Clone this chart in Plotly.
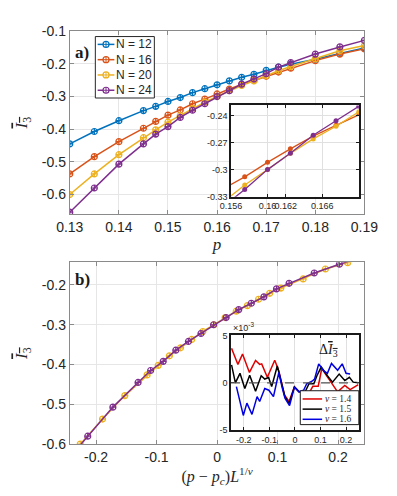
import plotly.graph_objects as go

# ---- data -----------------------------------------------------------------
P = [0.13, 0.135, 0.14, 0.145, 0.1475, 0.15, 0.1525, 0.155, 0.1575, 0.16,
     0.1625, 0.165, 0.1675, 0.17, 0.1725, 0.175, 0.18, 0.185, 0.19]

I3_N12 = [-0.445, -0.407, -0.374, -0.343, -0.330, -0.315, -0.303, -0.288, -0.276, -0.264,
          -0.252, -0.241, -0.232, -0.220, -0.210, -0.201, -0.186, -0.168, -0.151]
I3_N16 = [-0.537, -0.484, -0.438, -0.397, -0.376, -0.357, -0.341, -0.322, -0.308, -0.292,
          -0.277, -0.263, -0.251, -0.238, -0.225, -0.213, -0.190, -0.170, -0.154]
I3_N20 = [-0.600, -0.537, -0.478, -0.426, -0.402, -0.378, -0.358, -0.337, -0.317, -0.300,
          -0.282, -0.266, -0.252, -0.236, -0.221, -0.208, -0.185, -0.160, -0.144]
I3_N24 = [-0.654, -0.580, -0.507, -0.445, -0.415, -0.392, -0.364, -0.342, -0.322, -0.300,
          -0.282, -0.262, -0.246, -0.230, -0.210, -0.196, -0.170, -0.148, -0.128]

# scaling collapse parameters
PC = 0.1607
NU = 1.5

# inset b): deviation from collapse (units of 1e-3)
X_NU14 = [-0.248, -0.223, -0.205, -0.178, -0.154, -0.138, -0.130, -0.108, -0.079, -0.063,
          -0.041, -0.023, -0.002, 0.016, 0.058, 0.070, 0.091, 0.105, 0.167, 0.195, 0.216, 0.248]
D_NU14 = [3.64, 1.94, 3.03, 1.09, 2.35, 1.94, 2.00, 0.58, 2.38, 1.26,
          -1.29, -1.97, -0.44, -0.95, -0.95, -0.37, -0.37, 1.50, -0.95, -0.27, -0.72, -0.20]
X_NU15 = [-0.248, -0.233, -0.215, -0.196, -0.177, -0.154, -0.132, -0.118, -0.103, -0.091,
          -0.069, -0.055, -0.039, -0.023, -0.002, 0.016, 0.040, 0.055, 0.074, 0.086, 0.103,
          0.127, 0.147, 0.173, 0.195, 0.213, 0.228, 0.248]
D_NU15 = [1.90, 0.00, 1.00, -0.60, 0.80, -0.90, 0.75, 0.40, 0.55, -0.40,
          1.77, 0.30, -1.46, -2.20, -0.44, -0.95, -0.95, -0.10, -0.10, 0.75, 1.66,
          0.75, 0.07, 0.92, 0.24, 0.58, 0.07, 0.00]
X_NU16 = [-0.229, -0.202, -0.188, -0.168, -0.148, -0.138, -0.118, -0.102, -0.084, -0.063,
          -0.050, -0.039, -0.021, -0.002, 0.016, 0.034, 0.046, 0.067, 0.077, 0.093, 0.113,
          0.127, 0.143, 0.167, 0.185, 0.200, 0.216]
D_NU16 = [-0.40, -3.44, -2.14, -3.33, -1.46, -1.97, -0.61, -0.78, -1.46, 1.09,
          -0.50, -1.63, -2.41, -0.44, -0.95, -0.78, -0.10, 0.17, 0.40, 2.00, 1.26,
          1.00, 2.04, 1.32, 2.00, 1.00, 0.92]

# tick labels (MATLAB style hyphen minus)
XT_A = [0.13, 0.14, 0.15, 0.16, 0.17, 0.18, 0.19]
XL_A = ["0.13", "0.14", "0.15", "0.16", "0.17", "0.18", "0.19"]
YT_A = [-0.6, -0.5, -0.4, -0.3, -0.2, -0.1]
YL_A = ["-0.6", "-0.5", "-0.4", "-0.3", "-0.2", "-0.1"]
XT_B = [-0.2, -0.1, 0, 0.1, 0.2]
XL_B = ["-0.2", "-0.1", "0", "0.1", "0.2"]
YT_B = [-0.6, -0.5, -0.4, -0.3, -0.2]
YL_B = ["-0.6", "-0.5", "-0.4", "-0.3", "-0.2"]
XT_IA = [0.156, 0.16, 0.162, 0.166]
XL_IA = ["0.156", "0.16", "0.162", "0.166"]
YT_IA = [-0.33, -0.3, -0.27, -0.24]
YL_IA = ["-0.33", "-0.3", "-0.27", "-0.24"]
XT_IB = [-0.2, -0.1, 0, 0.1, 0.2]
XL_IB = ["-0.2", "-0.1", "0", "0.1", "0.2"]
YT_IB = [-5, 0, 5]
YL_IB = ["-5", "0", "5"]

SIZE_NAMES = ["N = 12", "N = 16", "N = 20", "N = 24"]
NU_NAMES = ["<i>ν</i> = 1.4", "<i>ν</i> = 1.5", "<i>ν</i> = 1.6"]

BLUE, RED, YELLOW, PURPLE = "#0072BD", "#D95319", "#EDB120", "#7E2F8E"
NU_COLORS = ["#e00000", "#000000", "#0000e0"]

W, H = 397, 496
SANS = "Liberation Sans, Arial"
SERIF = "Liberation Serif, Times New Roman, serif"
OVER_I3 = '<span style="text-decoration:overline"><i>I</i><sub>3</sub></span>'


def px_x(a, b):
    return [a / W, b / W]


def px_y(top, bottom):
    return [1 - bottom / H, 1 - top / H]


MAIN_AX = dict(
    showline=True, linecolor="#8a8a8a", linewidth=1, mirror="ticks",
    ticks="inside", ticklen=4, tickcolor="#8a8a8a",
    showgrid=True, gridcolor="#e6e6e6", zeroline=False, tickangle=0,
    tickfont=dict(family=SANS, size=14, color="#262626"),
)
INSET_AX = dict(
    showline=True, linecolor="#1a1a1a", linewidth=1.5, mirror="ticks",
    ticks="inside", ticklen=3, tickcolor="#1a1a1a",
    showgrid=True, gridcolor="#e0e0e0", zeroline=False, tickangle=0,
    tickfont=dict(family=SANS, size=9, color="#262626"),
)

fig = go.Figure()

# a) main
for name, ys, col in zip(SIZE_NAMES, [I3_N12, I3_N16, I3_N20, I3_N24],
                         [BLUE, RED, YELLOW, PURPLE]):
    fig.add_trace(go.Scatter(
        x=P, y=ys, mode="lines+markers", name=name, xaxis="x", yaxis="y",
        showlegend=False, line=dict(color=col, width=1.5),
        marker=dict(symbol="circle-cross-open", size=6, color=col, line=dict(width=1.2)),
    ))

# a) inset
for ys, col in [(I3_N16, RED), (I3_N20, YELLOW), (I3_N24, PURPLE)]:
    fig.add_trace(go.Scatter(
        x=P, y=ys, mode="lines+markers", xaxis="x3", yaxis="y3", showlegend=False,
        line=dict(color=col, width=1.3), marker=dict(size=5, color=col),
    ))

# b) collapse for N = 20, 24
for L, ys, col in [(20, I3_N20, YELLOW), (24, I3_N24, PURPLE)]:
    xs = [(p - PC) * L ** (1 / NU) for p in P]
    fig.add_trace(go.Scatter(
        x=xs, y=ys, mode="lines+markers", xaxis="x2", yaxis="y2", showlegend=False,
        line=dict(color=col, width=1.5),
        marker=dict(symbol="circle-cross-open", size=6, color=col, line=dict(width=1.2)),
    ))

# b) inset
for name, xs, ys, col in zip(NU_NAMES, [X_NU14, X_NU15, X_NU16],
                             [D_NU14, D_NU15, D_NU16], NU_COLORS):
    fig.add_trace(go.Scatter(
        x=xs, y=ys, mode="lines", name=name, xaxis="x4", yaxis="y4",
        showlegend=False, line=dict(color=col, width=1.5),
    ))

fig.add_shape(type="line", xref="x4 domain", yref="y4", x0=0, x1=1, y0=0, y1=0,
              line=dict(color="#555555", width=1.3, dash="dash"))

annotations = []


def legend_box(left, top, right, bottom, color, width):
    fig.add_shape(type="rect", xref="paper", yref="paper", layer="above",
                  x0=left / W, x1=right / W, y0=1 - bottom / H, y1=1 - top / H,
                  fillcolor="white", line=dict(color=color, width=width))


def legend_entry(x0, x1, y, color, text, tx, font, marker=False):
    yy = 1 - y / H
    fig.add_shape(type="line", xref="paper", yref="paper", layer="above",
                  x0=x0 / W, x1=x1 / W, y0=yy, y1=yy, line=dict(color=color, width=1.5))
    if marker:
        xc = (x0 + x1) / 2 / W
        fig.add_shape(type="circle", xref="paper", yref="paper", layer="above",
                      xsizemode="pixel", ysizemode="pixel", xanchor=xc, yanchor=yy,
                      x0=-3, x1=3, y0=-3, y1=3, fillcolor="white",
                      line=dict(color=color, width=1.2))
        fig.add_shape(type="line", xref="paper", yref="paper", layer="above",
                      xsizemode="pixel", ysizemode="pixel", xanchor=xc, yanchor=yy,
                      x0=0, x1=0, y0=-3, y1=3, line=dict(color=color, width=1))
        fig.add_shape(type="line", xref="paper", yref="paper", layer="above",
                      xsizemode="pixel", ysizemode="pixel", xanchor=xc, yanchor=yy,
                      x0=-3, x1=3, y0=0, y1=0, line=dict(color=color, width=1))
    annotations.append(dict(text=text, xref="paper", yref="paper", x=tx / W, y=yy,
                            xanchor="left", yanchor="middle", showarrow=False,
                            borderpad=0, font=font))


# legend of a)
legend_box(87.5, 29.5, 151, 93, "#262626", 1)
for i, (name, col) in enumerate(zip(SIZE_NAMES, [BLUE, RED, YELLOW, PURPLE])):
    legend_entry(90, 108, 37.6 + 15.8 * i, col, name, 109,
                 dict(family=SANS, size=12, color="#262626"), marker=True)

# legend of b) inset
legend_box(308, 395.5, 371, 430.5, "#1a1a1a", 1)
for i, (name, col) in enumerate(zip(NU_NAMES, NU_COLORS)):
    legend_entry(310.5, 331.5, 404 + 10.5 * i, col, name, 333,
                 dict(family=SERIF, size=9.5, color="#262626"))

annotations += [
    dict(text="<b>a)</b>", xref="paper", yref="paper", x=64 / W, y=1 - 34 / H,
         xanchor="left", yanchor="top", showarrow=False,
         font=dict(family=SERIF, size=17, color="#1a1a1a")),
    dict(text="<b>b)</b>", xref="paper", yref="paper", x=64 / W, y=1 - 269 / H,
         xanchor="left", yanchor="top", showarrow=False,
         font=dict(family=SERIF, size=17, color="#1a1a1a")),
    dict(text="×10<sup>-3</sup>", xref="paper", yref="paper", x=234 / W, y=1 - 338 / H,
         xanchor="left", yanchor="bottom", showarrow=False,
         font=dict(family=SANS, size=9, color="#262626")),
    dict(text="Δ" + OVER_I3, xref="paper", yref="paper", x=338 / W, y=1 - 354 / H,
         xanchor="center", yanchor="middle", showarrow=False,
         font=dict(family=SERIF, size=14, color="#1a1a1a")),
]

fig.update_layout(
    width=W, height=H,
    paper_bgcolor="white", plot_bgcolor="white",
    margin=dict(l=0, r=0, t=0, b=0),
    showlegend=False,
    font=dict(family=SANS, color="#262626"),
    xaxis=dict(MAIN_AX, domain=px_x(60, 377), range=[0.13, 0.19], anchor="y",
               tickvals=XT_A, ticktext=XL_A,
               title=dict(text="<i>p</i>", font=dict(family=SERIF, size=17), standoff=0)),
    yaxis=dict(MAIN_AX, domain=px_y(24, 213), range=[-0.66, -0.1], anchor="x",
               tickvals=YT_A, ticktext=YL_A,
               title=dict(text=OVER_I3, font=dict(family=SERIF, size=17), standoff=9)),
    xaxis2=dict(MAIN_AX, domain=px_x(60, 377), range=[-0.2435, 0.2435], anchor="y2",
                tickvals=XT_B, ticktext=XL_B,
                title=dict(text="(<i>p</i> − <i>p<sub>c</sub></i>)<i>L</i><sup>1/<i>ν</i></sup>",
                           font=dict(family=SERIF, size=16), standoff=2)),
    yaxis2=dict(MAIN_AX, domain=px_y(262.7, 450.7), range=[-0.6, -0.143], anchor="x2",
                tickvals=YT_B, ticktext=YL_B,
                title=dict(text=OVER_I3, font=dict(family=SERIF, size=17), standoff=9)),
    xaxis3=dict(INSET_AX, domain=px_x(233.5, 371), range=[0.156, 0.17], anchor="y3",
                tickvals=XT_IA, ticktext=XL_IA),
    yaxis3=dict(INSET_AX, domain=px_y(100.7, 195), range=[-0.33, -0.229], anchor="x3",
                tickvals=YT_IA, ticktext=YL_IA),
    xaxis4=dict(INSET_AX, domain=px_x(233.5, 371), range=[-0.25, 0.25], anchor="y4",
                tickvals=XT_IB, ticktext=XL_IB),
    yaxis4=dict(INSET_AX, domain=px_y(338.3, 436.3), range=[-5, 5], anchor="x4",
                tickvals=YT_IB, ticktext=YL_IB),
    annotations=annotations,
)

# page body margin would shift the figure inside the browser window
fig.write_html("out.html",
               config={"displayModeBar": False},
               post_script="document.body.style.margin='0';"
                           "document.body.style.overflow='hidden';")
